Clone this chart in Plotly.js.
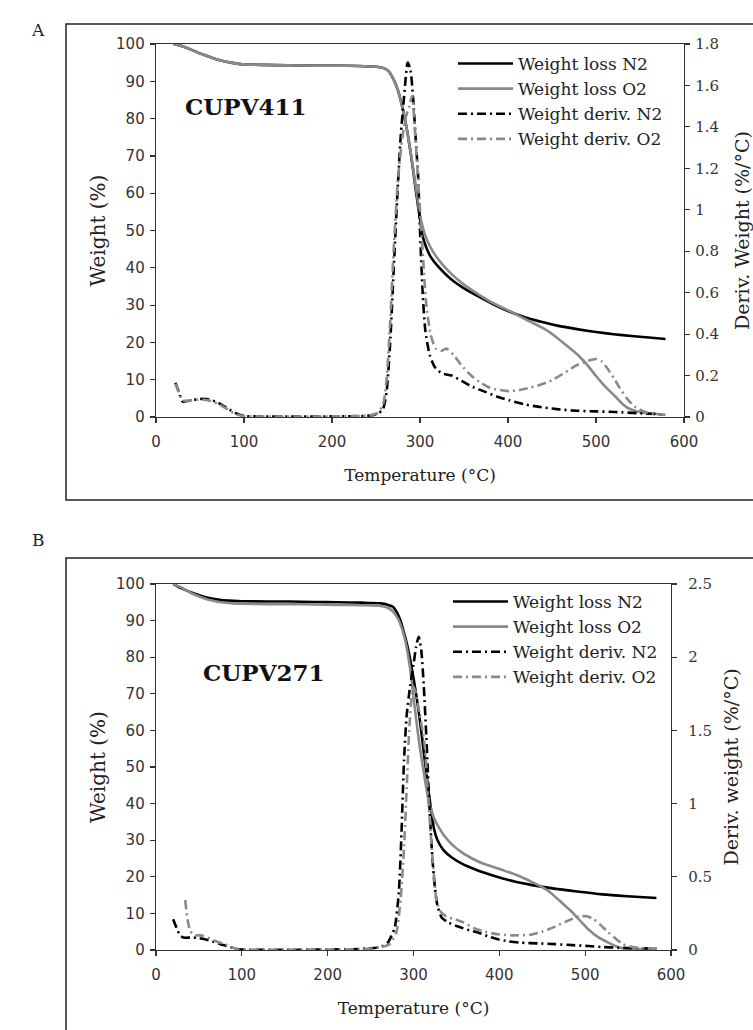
<!DOCTYPE html>
<html>
<head>
<meta charset="utf-8">
<script src="https://cdn.plot.ly/plotly-3.0.1.min.js"></script>
<style>html,body{margin:0;padding:0;background:#fff;}#chart{width:753px;height:1030px;}</style>
</head>
<body>
<div id="chart"></div>
<script>
// ---------- Panel A (CUPV411) ----------
const tempA_lossN2 = [20,30,40,52,65,75,85,96,120,150,180,205,230,250,258,264,270,275,280,284,288,292,296,300,303,307,312,320,335,350,369,385,402,420,440,456,480,500,520,540,560,579];
const lossA_N2     = [100,99.4,98.5,97.3,96.2,95.5,95.0,94.6,94.4,94.3,94.2,94.2,94.1,93.9,93.6,92.8,90.5,87.5,83,78.5,73,66.5,59.5,53,48.5,45.5,43,40.5,37,34.5,32,30,28.2,26.7,25.4,24.5,23.5,22.8,22.2,21.7,21.3,20.9];
const tempA_lossO2 = [20,30,40,52,65,75,85,96,120,150,180,205,230,250,258,264,270,275,280,284,288,292,296,300,303,307,312,320,335,350,369,385,402,420,440,456,470,480,490,500,510,522,530,538,550,560,579];
const lossA_O2     = [100,99.4,98.5,97.3,96.2,95.5,95.0,94.6,94.4,94.3,94.2,94.2,94.1,93.9,93.6,92.8,90.5,87.5,83,78.5,73,67,60.5,54,51,48,45.5,42.5,38.5,35.5,32.5,30.3,28.4,26.2,23.8,21.2,18.5,16.5,14,11,8.3,5.5,3.5,2.2,1.3,1.0,0.6];
const tempA_derivN2 = [22,26,30,40,50,60,70,80,90,100,120,150,200,240,252,258,262,266,270,274,278,282,286,289,292,295,298,300,303,306,311,317,325,336,347,360,375,390,402,420,434,455,478,500,522,550,577];
const derivA_N2     = [0.165,0.12,0.075,0.08,0.087,0.085,0.07,0.045,0.02,0.005,0.003,0.002,0.003,0.006,0.015,0.04,0.12,0.35,0.7,1.05,1.35,1.55,1.71,1.68,1.55,1.35,1.15,0.9,0.6,0.42,0.3,0.24,0.21,0.2,0.175,0.145,0.12,0.095,0.08,0.06,0.05,0.038,0.03,0.027,0.024,0.018,0.012];
const tempA_derivO2 = [22,26,30,40,50,60,70,80,90,100,150,200,240,252,258,262,266,270,275,280,284,288,291,294,297,300,303,307,312,318,325,330,338,347,358,369,380,391,402,413,424,440,451,465,478,490,500,506,512,520,527,535,544,555,566,577];
const derivA_O2     = [0.16,0.12,0.08,0.08,0.085,0.08,0.065,0.04,0.015,0.005,0.002,0.003,0.006,0.02,0.06,0.18,0.45,0.8,1.15,1.35,1.45,1.5,1.55,1.4,1.2,1.0,0.8,0.55,0.4,0.33,0.32,0.33,0.3,0.25,0.2,0.165,0.14,0.13,0.125,0.13,0.14,0.16,0.18,0.215,0.25,0.27,0.28,0.27,0.24,0.19,0.14,0.09,0.05,0.025,0.015,0.01];

// ---------- Panel B (CUPV271) ----------
const tempB_lossN2 = [20,30,42,55,65,76,90,100,130,155,185,211,240,262,270,276,280,284,288,293,298,303,307,310,313,316,318,321,324,328,335,345,358,370,380,403,420,437,460,493,520,549,583];
const lossB_N2     = [100,98.8,97.6,96.6,96.0,95.6,95.4,95.3,95.2,95.2,95.1,95.0,94.9,94.7,94.3,93.8,92.5,90.5,87.5,83,77,70,63.5,58,52,46.5,42.5,37.5,33,30,27.3,25.2,23.4,22.2,21.3,19.6,18.6,17.8,16.9,15.9,15.2,14.7,14.2];
const tempB_lossO2 = [20,30,42,55,65,76,90,100,130,155,185,211,240,262,270,276,280,284,290,296,301,307,313,318,321,324,330,335,345,358,370,380,403,420,437,450,459,470,482,493,504,515,527,537,544,560,583];
const lossB_O2     = [100,99.0,97.4,96.2,95.5,95.0,94.7,94.6,94.5,94.5,94.4,94.3,94.2,94.0,93.5,92.5,91.3,89.5,85,77,67,56,47,40.5,38,36,33.3,31.5,28.8,26.4,24.8,23.7,21.9,20.5,18.7,17.2,15.8,13.5,11,8.3,5.6,3.5,2,0.9,0.5,0.3,0.2];
const tempB_derivN2 = [20,24,28,32,40,48,56,65,75,84,93,100,150,200,240,262,270,278,283,286,289,292,296,300,303,306,309,312,315,318,321,324,328,333,340,352,365,375,386,397,410,425,445,465,485,504,520,538,560,583];
const derivB_N2     = [0.21,0.15,0.1,0.085,0.085,0.083,0.075,0.06,0.04,0.025,0.008,0.003,0.002,0.003,0.008,0.02,0.05,0.15,0.4,0.8,1.3,1.6,1.8,1.95,2.07,2.14,2.05,1.8,1.45,1.05,0.72,0.48,0.3,0.22,0.19,0.16,0.135,0.12,0.095,0.075,0.06,0.05,0.045,0.04,0.033,0.027,0.02,0.016,0.012,0.01];
const tempB_derivO2 = [34,37,40,45,52,60,70,80,88,95,150,200,240,262,272,280,285,289,292,295,298,300,303,306,309,313,317,320,324,327,332,338,348,358,370,380,395,414,437,450,465,480,493,502,510,518,527,535,544,555,570,583];
const derivB_O2     = [0.34,0.2,0.13,0.1,0.1,0.085,0.06,0.04,0.02,0.005,0.002,0.003,0.006,0.02,0.04,0.12,0.35,0.7,1.1,1.5,1.75,1.8,1.75,1.65,1.55,1.4,1.05,0.8,0.5,0.33,0.26,0.23,0.21,0.19,0.15,0.13,0.11,0.1,0.105,0.125,0.16,0.2,0.23,0.23,0.21,0.17,0.12,0.08,0.04,0.02,0.012,0.01];

// ---------- labels ----------
const seriesNames = ['Weight loss N2','Weight loss O2','Weight deriv. N2','Weight deriv. O2'];
const panelLetters = ['A','B'];
const sampleNames = ['CUPV411','CUPV271'];
const xTitle = 'Temperature (°C)';
const yTitle = 'Weight (%)';
const y2TitlesByPanel = ['Deriv. Weight (%/°C)','Deriv. weight (%/°C)'];

const BLACK = '#000000', GREY = '#8a8a8a';
const SERIF = 'DejaVu Serif, serif';
const SANS = 'DejaVu Sans, sans-serif';
const DASHDOT = '9px,4px,2px,4px';
const W = 753, H = 1030;

function mk(x, y, name, color, dash, xa, ya, leg) {
  return {x: x, y: y, name: name, type: 'scatter', mode: 'lines', xaxis: xa, yaxis: ya, legend: leg,
    line: {color: color, width: 2.6, dash: dash, shape: 'spline', smoothing: 0.6}, hoverinfo: 'skip'};
}
const traces = [
  mk(tempA_lossN2, lossA_N2, seriesNames[0], BLACK, 'solid', 'x', 'y', 'legend'),
  mk(tempA_lossO2, lossA_O2, seriesNames[1], GREY, 'solid', 'x', 'y', 'legend'),
  mk(tempA_derivN2, derivA_N2, seriesNames[2], BLACK, DASHDOT, 'x', 'y2', 'legend'),
  mk(tempA_derivO2, derivA_O2, seriesNames[3], GREY, DASHDOT, 'x', 'y2', 'legend'),
  mk(tempB_lossN2, lossB_N2, seriesNames[0], BLACK, 'solid', 'x2', 'y3', 'legend2'),
  mk(tempB_lossO2, lossB_O2, seriesNames[1], GREY, 'solid', 'x2', 'y3', 'legend2'),
  mk(tempB_derivN2, derivB_N2, seriesNames[2], BLACK, DASHDOT, 'x2', 'y4', 'legend2'),
  mk(tempB_derivO2, derivB_O2, seriesNames[3], GREY, DASHDOT, 'x2', 'y4', 'legend2')
];

const axisBase = {showgrid: false, zeroline: false, showline: true, linecolor: '#333', linewidth: 1.3,
  ticks: 'outside', ticklen: 5, tickcolor: '#333', tickwidth: 1.2, fixedrange: true};
const sansTick = {family: SANS, size: 15, color: '#333'};
const serifTick = {family: SERIF, size: 15, color: '#333'};
const xTitleObj = {text: xTitle, font: {family: SERIF, size: 17, color: '#222'}, standoff: 18};
const yTitleObj = {text: yTitle, font: {family: SERIF, size: 20, color: '#222'}, standoff: 5};

const layout = {
  width: W, height: H, margin: {l: 0, r: 0, t: 0, b: 0},
  paper_bgcolor: '#fff', plot_bgcolor: '#fff', showlegend: true,
  xaxis: Object.assign({}, axisBase, {domain: [156/W, 684/W], anchor: 'y', range: [0, 600], dtick: 100,
    mirror: true, tickfont: sansTick, ticklabelstandoff: 6, title: xTitleObj}),
  yaxis: Object.assign({}, axisBase, {domain: [1-417/H, 1-44/H], anchor: 'x', range: [0, 100], dtick: 10,
    tickfont: sansTick, ticklabelstandoff: 2, title: yTitleObj}),
  yaxis2: Object.assign({}, axisBase, {overlaying: 'y', side: 'right', anchor: 'x', range: [0, 1.8], dtick: 0.2,
    tickfont: serifTick, ticklabelstandoff: 2,
    title: {text: y2TitlesByPanel[0], font: {family: SERIF, size: 19, color: '#222'}, standoff: 19}}),
  xaxis2: Object.assign({}, axisBase, {domain: [156/W, 671/W], anchor: 'y3', range: [0, 600], dtick: 100,
    mirror: true, tickfont: sansTick, ticklabelstandoff: 6, title: xTitleObj}),
  yaxis3: Object.assign({}, axisBase, {domain: [1-950/H, 1-584/H], anchor: 'x2', range: [0, 100], dtick: 10,
    tickfont: sansTick, ticklabelstandoff: 2, title: yTitleObj}),
  yaxis4: Object.assign({}, axisBase, {overlaying: 'y3', side: 'right', anchor: 'x2', range: [0, 2.5], dtick: 0.5,
    tickfont: serifTick, ticklabelstandoff: 8,
    title: {text: y2TitlesByPanel[1], font: {family: SERIF, size: 19, color: '#222'}, standoff: 13}}),
  legend: {x: 453/W, y: 1-46/H, xanchor: 'left', yanchor: 'top', bgcolor: 'rgba(0,0,0,0)',
    font: {family: SERIF, size: 17, color: '#222'}, itemwidth: 55, tracegroupgap: 0},
  legend2: {x: 448/W, y: 1-584/H, xanchor: 'left', yanchor: 'top', bgcolor: 'rgba(0,0,0,0)',
    font: {family: SERIF, size: 17, color: '#222'}, itemwidth: 55, tracegroupgap: 0},
  shapes: [
    {type: 'rect', xref: 'paper', yref: 'paper', x0: 66/W, x1: 1.02, y0: 1-500/H, y1: 1-24/H,
      line: {color: '#222', width: 1.5}, fillcolor: 'rgba(0,0,0,0)', layer: 'below'},
    {type: 'rect', xref: 'paper', yref: 'paper', x0: 66/W, x1: 1.02, y0: -0.02, y1: 1-558/H,
      line: {color: '#222', width: 1.5}, fillcolor: 'rgba(0,0,0,0)', layer: 'below'}
  ],
  annotations: [
    {text: panelLetters[0], xref: 'paper', yref: 'paper', x: 38/W, y: 1-30/H, xanchor: 'center', yanchor: 'middle',
      showarrow: false, font: {family: SERIF, size: 17, color: '#222'}},
    {text: panelLetters[1], xref: 'paper', yref: 'paper', x: 38/W, y: 1-540/H, xanchor: 'center', yanchor: 'middle',
      showarrow: false, font: {family: SERIF, size: 17, color: '#222'}},
    {text: '<b>' + sampleNames[0] + '</b>', xref: 'paper', yref: 'paper', x: 246/W, y: 1-106/H,
      xanchor: 'center', yanchor: 'middle', showarrow: false, font: {family: SERIF, size: 23, color: '#111'}},
    {text: '<b>' + sampleNames[1] + '</b>', xref: 'paper', yref: 'paper', x: 264/W, y: 1-672/H,
      xanchor: 'center', yanchor: 'middle', showarrow: false, font: {family: SERIF, size: 23, color: '#111'}}
  ]
};

Plotly.newPlot('chart', traces, layout, {staticPlot: true, displayModeBar: false});
</script>
</body>
</html>
